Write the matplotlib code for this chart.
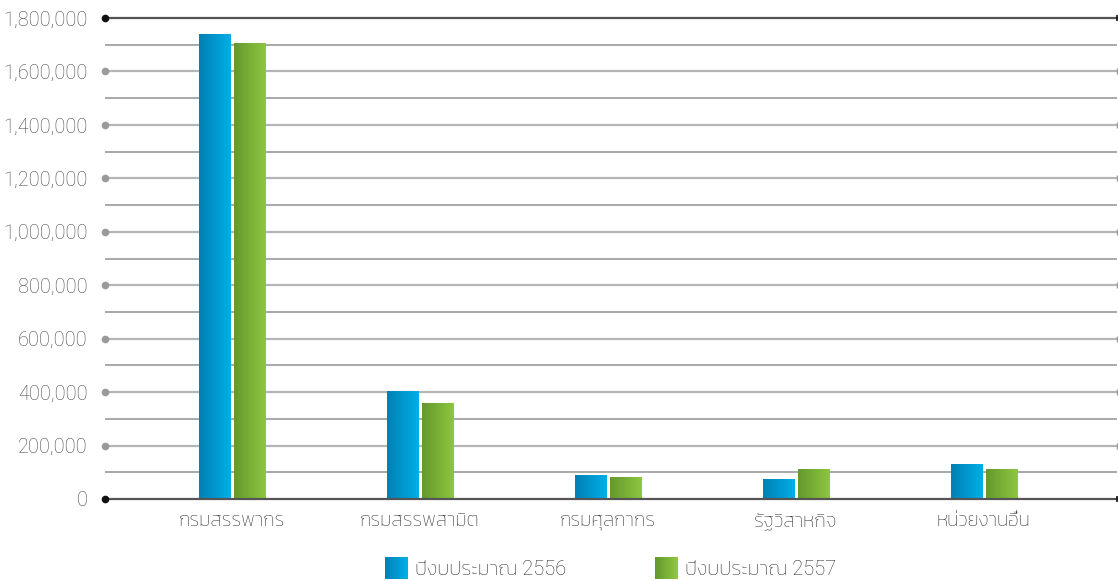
import numpy as np
import matplotlib
matplotlib.use("Agg")
import matplotlib.pyplot as plt
from matplotlib.colors import LinearSegmentedColormap
from matplotlib.patches import Rectangle
from matplotlib.legend_handler import HandlerBase
from matplotlib.ticker import MultipleLocator, FuncFormatter

plt.rcParams['font.family'] = ['Kanit', 'DejaVu Sans']

##Data##
categories = ["กรมสรรพากร", "กรมสรรพสามิต", "กรมศุลกากร", "รัฐวิสาหกิจ", "หน่วยงานอื่น"]
budget_2556 = [1740000, 404000, 90000, 75000, 131000]
budget_2557 = [1706000, 359000, 82000, 112000, 112000]
series_labels = ["ปีงบประมาณ 2556", "ปีงบประมาณ 2557"]

##Styles##
blue_cmap = LinearSegmentedColormap.from_list("blue", ["#0081b4", "#00aee8"])
green_cmap = LinearSegmentedColormap.from_list("green", ["#64992d", "#8dc63f"])
text_color = "#4a4a4a"
dark_color = "#555555"

fig = plt.figure(figsize=(11.18, 5.81), dpi=100)
ax = fig.add_axes([105/1118, 82/581, 1012/1118, 481/581])

x = np.arange(len(categories))
bar_w = 0.165
off = 0.093

bars_a = ax.bar(x - off, budget_2556, width=bar_w, color="none", zorder=3)
bars_b = ax.bar(x + off, budget_2557, width=bar_w, color="none", zorder=3)

#Horizontal gradient fill clipped to each bar
grad = np.linspace(0, 1, 64).reshape(1, -1)
for bars, cmap in [(bars_a, blue_cmap), (bars_b, green_cmap)]:
    for b in bars:
        x0, y0 = b.get_x(), b.get_y()
        im = ax.imshow(grad, cmap=cmap, aspect="auto", zorder=3,
                       extent=(x0, x0 + b.get_width(), y0, y0 + b.get_height()))
        im.set_clip_path(b)

xl, xr = -0.676, 4.71
ax.set_xlim(xl, xr)
ax.set_ylim(0, 1800000)

#Gridlines: minor every 100k, major every 200k with dots at left
ymax = 1800000
for yv in np.arange(100000, ymax, 200000):
    ax.axhline(yv, color="#9a9a9a", lw=1.2, zorder=1)
for yv in np.arange(200000, ymax, 200000):
    ax.axhline(yv, color="#b5b5b5", lw=1.6, zorder=1)
    ax.plot([xl], [yv], marker="o", ms=4.5, color="#9a9a9a", clip_on=False, zorder=4)
    ax.plot([xr], [yv], marker="|", ms=4, mew=1, color="#9a9a9a", clip_on=False, zorder=4)
for yv in [0, ymax]:
    ax.axhline(yv, color=dark_color, lw=1.6, zorder=4, clip_on=False)
    ax.plot([xl], [yv], marker="o", ms=4.5, color="#111111", clip_on=False, zorder=5)
    ax.plot([xr], [yv], marker="|", ms=4, mew=1.2, color="#111111", clip_on=False, zorder=5)

for s in ax.spines.values():
    s.set_visible(False)

ax.yaxis.set_major_locator(MultipleLocator(200000))
ax.yaxis.set_major_formatter(FuncFormatter(lambda v, p: f"{int(v):,}"))
ax.tick_params(axis="y", length=0, pad=12.5, labelsize=14.3, labelcolor=text_color)
for lab in ax.get_yticklabels():
    lab.set_family(["Roboto", "DejaVu Sans"])
    lab.set_fontweight("light")

ax.set_xticks(x)
ax.set_xticklabels(categories)
ax.tick_params(axis="x", length=0, pad=10, labelsize=14, labelcolor="#2e2e2e")
for lab in ax.get_xticklabels():
    lab.set_fontweight("light")


class GradientHandler(HandlerBase):
    def __init__(self, cmap):
        super().__init__()
        self.cmap = cmap

    def create_artists(self, legend, orig_handle, xdescent, ydescent, width, height, fontsize, trans):
        n = 20
        arts = []
        side = width
        for i in range(n):
            r = Rectangle((-xdescent + side * i / n, -ydescent + height / 2 - side / 2), side / n + 0.3, side,
                          facecolor=self.cmap(i / (n - 1)), edgecolor="none", transform=trans)
            arts.append(r)
        return arts


h1 = Rectangle((0, 0), 1, 1)
h2 = Rectangle((0, 0), 1, 1)
leg = fig.legend([h1, h2], series_labels, loc="center", bbox_to_anchor=(611/1118, 12/581),
                 ncol=2, frameon=False, fontsize=14.5,
                 handler_map={h1: GradientHandler(blue_cmap), h2: GradientHandler(green_cmap)},
                 handlelength=1.09, handleheight=1.09, handletextpad=0.4, columnspacing=4.4)
for t in leg.get_texts():
    t.set_color("#2e2e2e")
    t.set_fontweight("light")
    t.set_family(["Roboto", "Kanit", "DejaVu Sans"])

plt.savefig("out.png", dpi=100)
